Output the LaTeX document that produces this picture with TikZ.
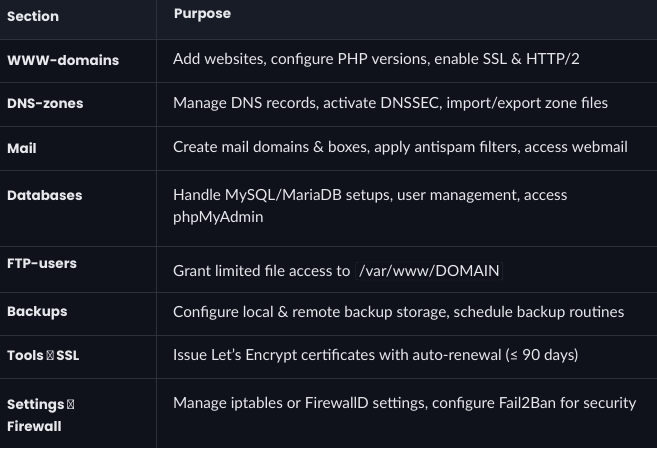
\documentclass[tikz,border=0pt]{standalone}
\usepackage{fontspec}
\setmainfont{Lato}
\newfontfamily\secfont{Poppins}
\definecolor{bg}{HTML}{0F121A}
\definecolor{hd}{HTML}{171C27}
\definecolor{ln}{HTML}{2A303C}
\definecolor{tx}{HTML}{E6E8EC}
\begin{document}
\begin{tikzpicture}[x=1pt,y=-1pt,
  sec/.style={anchor=west,text=tx,font=\secfont\bfseries\fontsize{13.5}{22}\selectfont,align=left,inner sep=0pt},
  pur/.style={anchor=west,text=tx,font=\fontsize{15.3}{22}\selectfont,align=left,inner sep=0pt},
  code/.style={draw=ln,rounded corners=2pt,inner sep=3pt,text=tx,font=\fontsize{15.3}{17}\selectfont}]
\fill[bg] (0,0) rectangle (657,448);
\fill[hd] (0,0) rectangle (657,39);
\useasboundingbox (0,0) rectangle (657,448);
\foreach \y in {39,82,126,170,246,292,335,378}{\draw[ln] (0,\y) -- (657,\y);}
\draw[ln] (156,0) -- (156,448);
\node[sec] (h1) at (7,16) {Section};
\node[sec] (h2) at (174,16) {Purpose};
\node[sec] (s1) at (7,60) {WWW-domains};
\node[pur] (p1) at (173,60) {Add websites, configure PHP versions, enable SSL \& HTTP/2};
\node[sec] (s2) at (7,104) {DNS-zones};
\node[pur] (p2) at (173,104) {Manage DNS records, activate DNSSEC, import/export zone files};
\node[sec] (s3) at (7,148) {Mail};
\node[pur] (p3) at (173,148) {Create mail domains \& boxes, apply antispam filters, access webmail};
\node[sec] (s4) at (7,196) {Databases};
\node[pur] (p4) at (173,207) {Handle MySQL/MariaDB setups, user management, access\\phpMyAdmin};
\node[sec] (s5) at (7,264) {FTP-users};
\node[pur] (p5) at (173,271) {Grant limited file access to};
\node[code,anchor=west] (c5) at ([xshift=5pt]p5.east) {/var/www/DOMAIN};
\node[sec] (s6) at (7,313) {Backups};
\node[pur] (p6) at (173,313) {Configure local \& remote backup storage, schedule backup routines};
\node[sec] (s7) at (7,356) {Tools → SSL};
\node[pur] (p7) at (173,356) {Issue Let's Encrypt certificates with auto-renewal (≤ 90 days)};
\node[sec] (s8) at (7,415) {Settings →\\Firewall};
\node[pur] (p8) at (173,404) {Manage iptables or FirewallD settings, configure Fail2Ban for security};
\end{tikzpicture}
\end{document}
